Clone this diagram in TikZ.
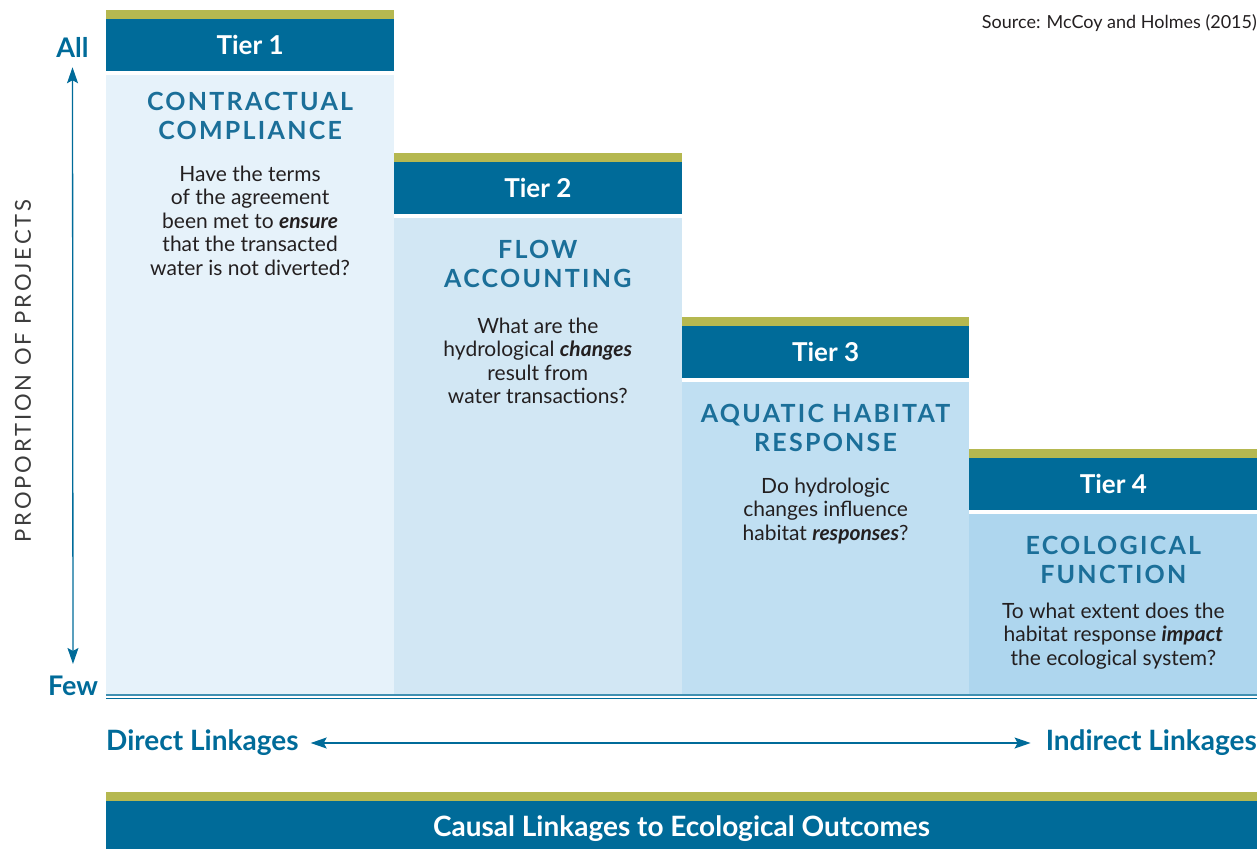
\documentclass[tikz,border=0pt]{standalone}
\usepackage{fontspec}
\setmainfont{Lato}
\newfontfamily\spacedfont[LetterSpace=9]{Lato}
\newfontfamily\axisfont[LetterSpace=13]{Lato}
\usetikzlibrary{positioning,arrows.meta}
\definecolor{tierblue}{RGB}{0,107,153}
\definecolor{tierolive}{RGB}{181,184,80}
\definecolor{titleblue}{RGB}{27,111,153}
\definecolor{boxa}{RGB}{230,242,250}
\definecolor{boxb}{RGB}{210,231,244}
\definecolor{boxc}{RGB}{192,223,242}
\definecolor{boxd}{RGB}{174,214,238}
\definecolor{bodytext}{RGB}{35,31,32}
\definecolor{axistext}{RGB}{60,60,60}

\begin{document}
\begin{tikzpicture}[x=1pt,y=-1pt,
    header/.style={fill=tierblue, text=white, font=\fontsize{26}{28}\selectfont\bfseries,
        minimum width=287.75pt, minimum height=52pt, inner sep=0pt, anchor=north west},
    tiertitle/.style={text=titleblue, align=center, inner sep=0pt,
        font=\spacedfont\fontsize{25}{28.5}\selectfont\bfseries},
    question/.style={text=bodytext, align=center, inner sep=0pt,
        font=\fontsize{21}{23.5}\selectfont},
    side/.style={text=tierblue, font=\fontsize{27}{30}\selectfont\bfseries, inner sep=0pt},
    linkage/.style={text=tierblue, font=\fontsize{28}{30}\selectfont\bfseries, inner sep=0pt},
    axisarrow/.style={tierblue, line width=1.3pt, {Stealth[length=16pt,width=11pt,inset=3pt]}-{Stealth[length=16pt,width=11pt,inset=3pt]}}]
\useasboundingbox (0,0) rectangle (1260,849);

% the four tiers
\foreach \n/\top/\shade/\tgap/\qgap/\title/\quest in {
    1/10/boxa/21/26/{CONTRACTUAL\\COMPLIANCE}/{Have the terms\\of the agreement\\been met to \textbf{\textit{ensure}}\\that the transacted\\water is not diverted?},
    2/153/boxb/26/30/{FLOW\\ACCOUNTING}/{What are the\\hydrological \textbf{\textit{changes}}\\result from\\water transactions?},
    3/317/boxc/26/26/{AQUATIC HABITAT\\RESPONSE}/{Do hydrologic\\changes influence\\habitat \textbf{\textit{responses}}?},
    4/449/boxd/26/19/{ECOLOGICAL\\FUNCTION}/{To what extent does the\\habitat response \textbf{\textit{impact}}\\the ecological system?}}{
    \pgfmathsetmacro{\left}{106+(\n-1)*287.75}
    \fill[\shade] (\left,\top+65) rectangle ++(287.75,694-\top-65);
    \fill[tierolive] (\left,\top) rectangle ++(287.75,9);
    \node[header] (tier\n) at (\left,\top+9) {Tier \n};
    \node[tiertitle, below=\tgap pt of tier\n] (name\n) {\title};
    \node[question, below=\qgap pt of name\n] (quest\n) {\quest};
}

% base line
\draw[tierblue!75, line width=1.2pt] (106,695) -- (1257,695);
\draw[tierblue, line width=1pt] (106,698) -- (1257,698);

% proportion axis
\node[side] (all) at (72.5,47) {All};
\node[side] (few) at (73,686) {Few};
\draw[axisarrow, shorten <=10pt, shorten >=12pt] (all) -- (few);
\node[rotate=90, text=axistext, font=\axisfont\fontsize{22}{24}\selectfont] (axis) at (23,371) {PROPORTION OF PROJECTS};

% linkage axis
\node[linkage, anchor=west] (direct) at (106,743) {Direct Linkages};
\node[linkage, anchor=east] (indirect) at (1257,743) {Indirect Linkages};
\draw[axisarrow, shorten <=12pt, shorten >=15pt] (direct.east) -- (indirect.west);

% bottom banner
\fill[tierolive] (106,792) rectangle (1257,801);
\fill[tierblue] (106,801) rectangle (1257,849);
\node[text=white, font=\fontsize{28}{30}\selectfont\bfseries, inner sep=0pt] (causal) at (681.5,829) {Causal Linkages to Ecological Outcomes};

\node[anchor=north east, inner sep=0pt, text=bodytext, font=\fontsize{18}{20}\selectfont] (source) at (1257,14) {Source: McCoy and Holmes (2015)};
\end{tikzpicture}
\end{document}
